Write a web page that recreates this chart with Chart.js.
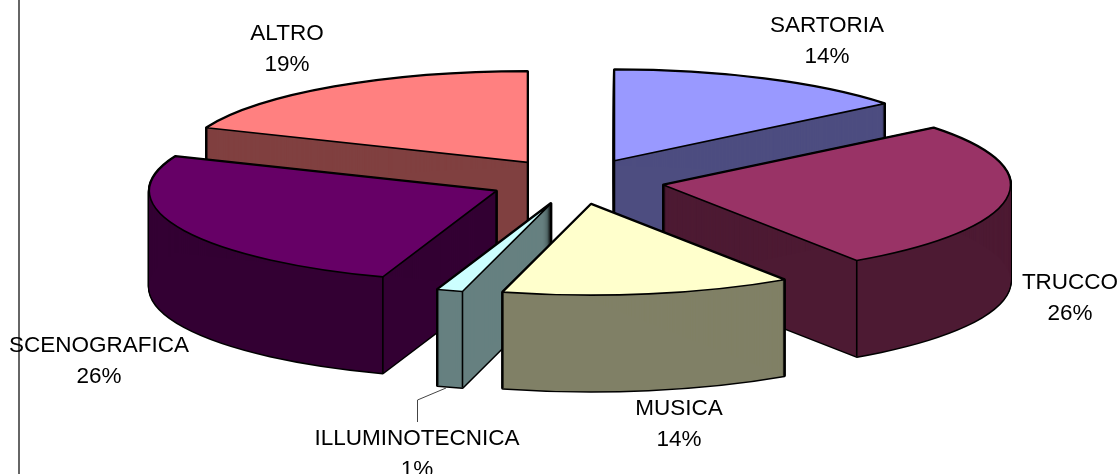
<!DOCTYPE html>
<html>
<head>
<meta charset="utf-8">
<style>
html, body { margin: 0; padding: 0; background: #fff; overflow: hidden; }
canvas { display: block; }
</style>
<script src="https://cdn.jsdelivr.net/npm/chart.js@4/dist/chart.umd.min.js"></script>
</head>
<body>
<canvas id="chart" width="1120" height="474"></canvas>
<script>
var categories = ['SARTORIA', 'TRUCCO', 'MUSICA', 'ILLUMINOTECNICA', 'SCENOGRAFICA', 'ALTRO'];
var shares = [14.2, 26.4, 13.5, 1.2, 25.9, 18.8];
var topColors = ['#9999ff', '#993366', '#ffffcc', '#ccffff', '#660066', '#ff8080'];
var sideColors = ['#4d4d80', '#4d1a33', '#808066', '#668080', '#330033', '#804040'];

var squash = 0.262;
var depth = 96;
var font = '22.5px "Liberation Sans", Arial, sans-serif';
// label centres, same order as categories
var labelSpots = [[827, 25], [1070, 282], [679, 408], [417, 438], [99, 345], [287, 33]];

function slicePath(ctx, arc, drop) {
    var p = arc.getProps(['x', 'y', 'startAngle', 'endAngle', 'outerRadius']);
    var mid = (p.startAngle + p.endAngle) / 2;
    var off = arc.options.offset;
    var cy = p.y + Math.sin(mid) * off * squash + drop;
    var cx = p.x + Math.cos(mid) * off;
    ctx.beginPath();
    ctx.moveTo(cx, cy);
    ctx.ellipse(cx, cy, p.outerRadius, p.outerRadius * squash, 0, p.startAngle, p.endAngle);
    ctx.closePath();
    return { cx: cx, cy: cy, r: p.outerRadius, start: p.startAngle, end: p.endAngle };
}

// vertical edge of the block, only where it is not behind the top face
function edge(ctx, x, y) {
    ctx.beginPath();
    ctx.moveTo(x, y);
    ctx.lineTo(x, y + depth);
    ctx.stroke();
}

function drawSlice(ctx, arc, i) {
    var d;
    ctx.lineJoin = 'round';
    ctx.strokeStyle = '#000';
    ctx.lineWidth = 3;
    for (d = 0; d <= depth; d++) {
        slicePath(ctx, arc, d);
        ctx.stroke();
    }
    ctx.fillStyle = sideColors[i];
    for (d = 0; d <= depth; d++) {
        slicePath(ctx, arc, d);
        ctx.fill();
    }

    var s = slicePath(ctx, arc, 0);
    ctx.lineWidth = 1.6;
    var corners = [[s.start, true], [s.end, false]];
    corners.forEach(function (c) {
        var sin = Math.cos(c[0]);  // chart angles start at 3 o'clock
        var up = Math.sin(c[0]) < -1e-6;
        var side = c[1] ? sin < -1e-6 : sin > 1e-6;
        if (!up || side) {
            edge(ctx, s.cx + Math.cos(c[0]) * s.r, s.cy + Math.sin(c[0]) * s.r * squash);
        }
    });
    // the centre edge hides when the slice covers straight down
    if (!(s.start < Math.PI / 2 && s.end > Math.PI / 2)) {
        edge(ctx, s.cx, s.cy);
    }

    slicePath(ctx, arc, 0);
    ctx.fillStyle = topColors[i];
    ctx.fill();
    ctx.stroke();
}

var blockPie = {
    id: 'blockPie',
    beforeDatasetsDraw: function (chart) {
        var ctx = chart.ctx;
        var arcs = chart.getDatasetMeta(0).data;
        var order = arcs.map(function (a, i) { return i; });
        // back slices first
        order.sort(function (a, b) {
            var ma = (arcs[a].startAngle + arcs[a].endAngle) / 2;
            var mb = (arcs[b].startAngle + arcs[b].endAngle) / 2;
            return Math.sin(ma) - Math.sin(mb);
        });
        ctx.save();
        order.forEach(function (i) { drawSlice(ctx, arcs[i], i); });
        ctx.restore();
        return false;
    },
    afterDraw: function (chart) {
        var ctx = chart.ctx;
        ctx.save();
        // frame line on the left
        ctx.strokeStyle = '#333';
        ctx.lineWidth = 1.5;
        ctx.beginPath();
        ctx.moveTo(19, 0);
        ctx.lineTo(19, 474);
        ctx.stroke();
        // leader for the small slice
        ctx.lineWidth = 1;
        ctx.strokeStyle = '#444';
        ctx.beginPath();
        ctx.moveTo(417.5, 422);
        ctx.lineTo(417.5, 400);
        ctx.lineTo(446, 388);
        ctx.stroke();

        var total = shares.reduce(function (a, b) { return a + b; }, 0);
        ctx.font = font;
        ctx.fillStyle = '#000';
        ctx.textAlign = 'center';
        ctx.textBaseline = 'middle';
        categories.forEach(function (name, i) {
            var spot = labelSpots[i];
            ctx.fillText(name, spot[0], spot[1] + 1);
            ctx.fillText(Math.round(shares[i] / total * 100) + '%', spot[0], spot[1] + 32);
        });
        ctx.restore();
    }
};

new Chart(document.getElementById('chart'), {
    type: 'pie',
    data: {
        labels: categories,
        datasets: [{
            data: shares,
            backgroundColor: topColors,
            borderWidth: 0,
            offset: 88
        }]
    },
    options: {
        responsive: false,
        animation: false,
        radius: 347,
        layout: { padding: { left: 33, bottom: 111 } },
        plugins: { legend: { display: false }, tooltip: { enabled: false } }
    },
    plugins: [blockPie]
});
</script>
</body>
</html>
